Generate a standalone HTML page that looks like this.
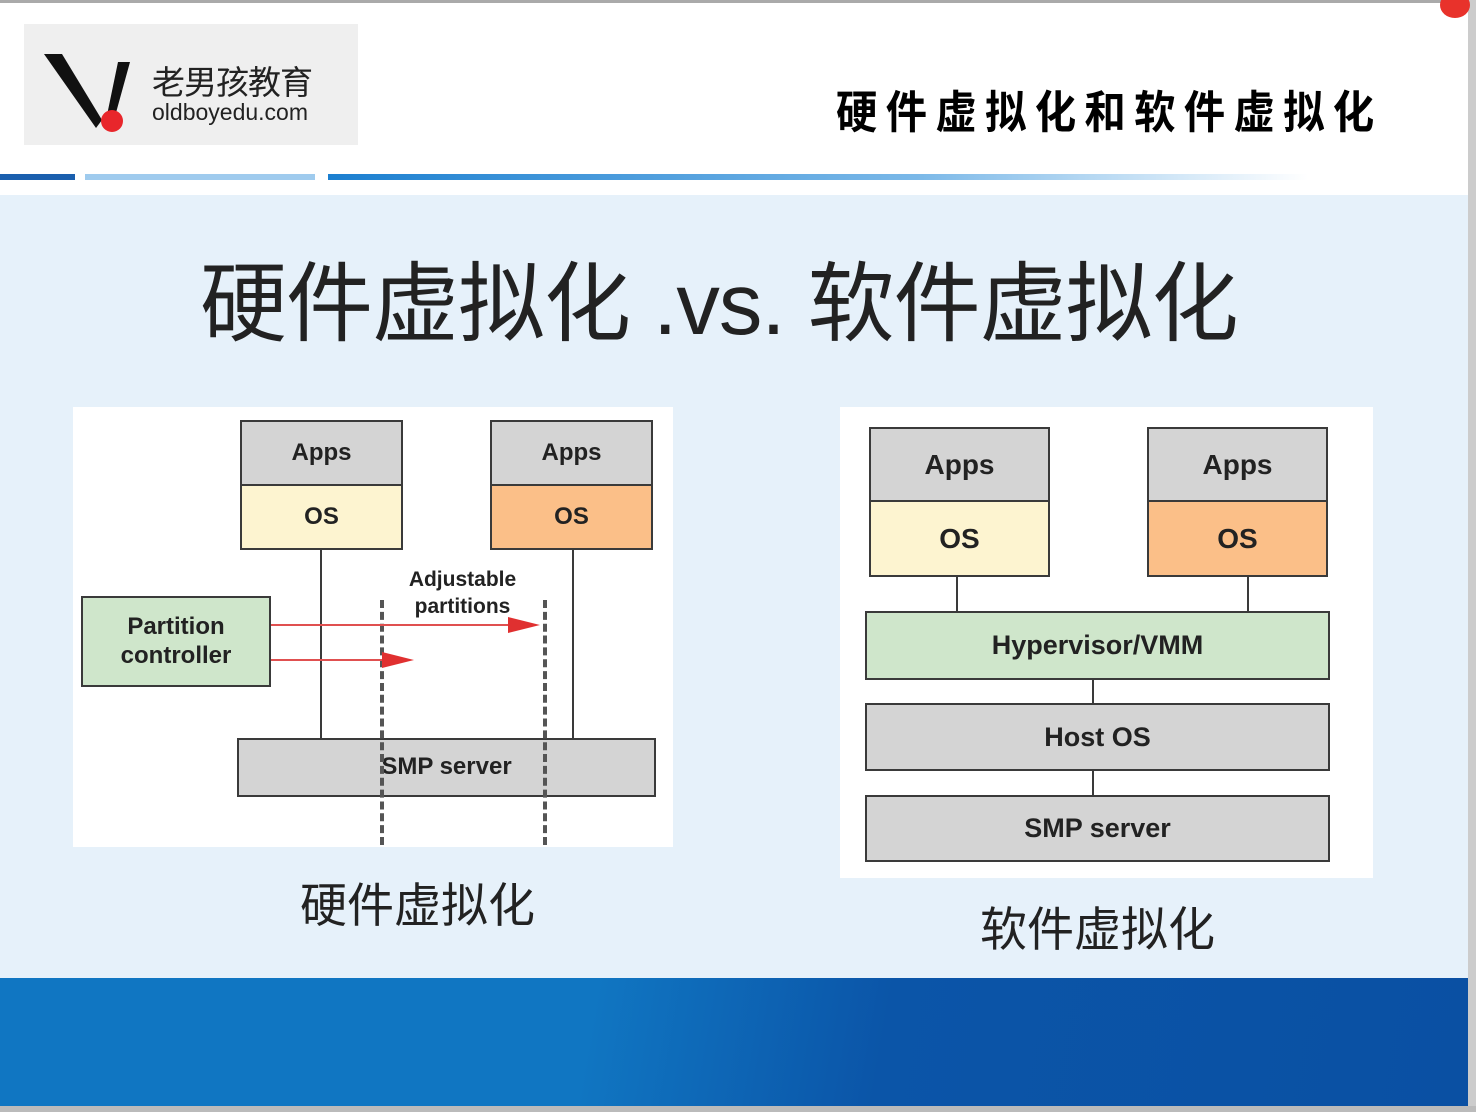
<!DOCTYPE html>
<html><head><meta charset="utf-8"><style>
*{margin:0;padding:0;box-sizing:border-box}
body{width:1476px;height:1112px;position:relative;overflow:hidden;background:#fff;font-family:"Liberation Sans","Noto Sans CJK SC",sans-serif}
.a{position:absolute}
.b{position:absolute;border:2px solid #3a3a3a;display:flex;align-items:center;justify-content:center;font-weight:bold;color:#222;font-size:24px;text-align:center;line-height:1.2}
.g{background:#d4d4d4}.y{background:#fdf4d0}.o{background:#fbbf88}.gr{background:#cfe6cb}
.v{position:absolute;width:2px;background:#3a3a3a}
</style></head><body>
<div class="a" style="left:0;top:0;width:1476px;height:3px;background:#aaa"></div>
<div class="a" style="left:1468px;top:0;width:8px;height:1112px;background:#ccc"></div>
<div class="a" style="left:1440px;top:-8px;width:30px;height:26px;border-radius:50%;background:#e8322b"></div>
<div class="a" style="left:24px;top:24px;width:334px;height:121px;background:#efefef"></div>
<svg class="a" style="left:40px;top:50px" width="90" height="85"><polygon points="4,4 22,4 62,70 56,78" fill="#111"/><polygon points="78,12 90,12 74,70 66,70" fill="#111"/><circle cx="72" cy="71" r="11" fill="#e8262b"/></svg>
<div class="a" style="left:152px;top:56px;font-size:33px;color:#222;letter-spacing:-1px">老男孩教育</div>
<div class="a" style="left:152px;top:99px;font-size:23px;color:#222">oldboyedu.com</div>
<div class="a" style="left:836px;top:76px;font-size:45px;font-weight:bold;color:#000;letter-spacing:9px;transform:scaleX(0.92);transform-origin:left">硬件虚拟化和软件虚拟化</div>
<div class="a" style="left:0;top:174px;width:75px;height:6px;background:#1a5fae"></div>
<div class="a" style="left:85px;top:174px;width:230px;height:6px;background:#9fcbee"></div>
<div class="a" style="left:328px;top:174px;width:980px;height:6px;background:linear-gradient(90deg,#1b7fd0,#7ab8e8 60%,#fff)"></div>
<div class="a" style="left:0;top:195px;width:1468px;height:783px;background:#e6f1fa"></div>
<div class="a" style="left:0;top:978px;width:1468px;height:128px;background:linear-gradient(100deg,#1076c2 0%,#1076c2 40%,#0b55a8 60%,#0a50a3 100%)"></div>
<div class="a" style="left:0;top:1106px;width:1476px;height:6px;background:#bbb"></div>
<div class="a" style="left:200px;top:234px;font-size:87px;color:#222;white-space:nowrap;letter-spacing:-1px">硬件虚拟化 .vs. 软件虚拟化</div>
<!-- left -->
<div class="a" style="left:73px;top:407px;width:600px;height:440px;background:#fff"></div>
<div class="v" style="left:320px;top:550px;height:188px"></div>
<div class="v" style="left:572px;top:550px;height:188px"></div>
<div class="b g" style="left:240px;top:420px;width:163px;height:66px">Apps</div>
<div class="b y" style="left:240px;top:484px;width:163px;height:66px">OS</div>
<div class="b g" style="left:490px;top:420px;width:163px;height:66px">Apps</div>
<div class="b o" style="left:490px;top:484px;width:163px;height:66px">OS</div>
<div class="b gr" style="left:81px;top:596px;width:190px;height:91px">Partition<br>controller</div>
<div class="b g" style="left:237px;top:738px;width:419px;height:59px">SMP server</div>
<div class="a" style="left:380px;top:600px;height:245px;border-left:4px dashed #555"></div>
<div class="a" style="left:543px;top:600px;height:245px;border-left:4px dashed #555"></div>
<div class="a" style="left:380px;top:566px;width:165px;font-size:21px;font-weight:bold;color:#222;text-align:center;line-height:27px">Adjustable<br>partitions</div>
<svg class="a" style="left:0;top:0" width="700" height="700"><g stroke="#e05050" stroke-width="2" fill="#e03030"><line x1="271" y1="625" x2="520" y2="625"/><polygon points="540,625 508,617 508,633" stroke="none"/><line x1="271" y1="660" x2="395" y2="660"/><polygon points="414,660 382,652 382,668" stroke="none"/></g></svg>
<div class="a" style="left:300px;top:867px;font-size:47px;color:#222">硬件虚拟化</div>
<!-- right -->
<div class="a" style="left:840px;top:407px;width:533px;height:471px;background:#fff"></div>
<div class="v" style="left:956px;top:577px;height:34px"></div>
<div class="v" style="left:1247px;top:577px;height:34px"></div>
<div class="v" style="left:1092px;top:679px;height:24px"></div>
<div class="v" style="left:1092px;top:770px;height:25px"></div>
<div class="b g" style="left:869px;top:427px;width:181px;height:75px;font-size:28px">Apps</div>
<div class="b y" style="left:869px;top:500px;width:181px;height:77px;font-size:28px">OS</div>
<div class="b g" style="left:1147px;top:427px;width:181px;height:75px;font-size:28px">Apps</div>
<div class="b o" style="left:1147px;top:500px;width:181px;height:77px;font-size:28px">OS</div>
<div class="b gr" style="left:865px;top:611px;width:465px;height:69px;font-size:27px">Hypervisor/VMM</div>
<div class="b g" style="left:865px;top:703px;width:465px;height:68px;font-size:27px">Host OS</div>
<div class="b g" style="left:865px;top:795px;width:465px;height:67px;font-size:27px">SMP server</div>
<div class="a" style="left:980px;top:891px;font-size:47px;color:#222">软件虚拟化</div>
</body></html>
